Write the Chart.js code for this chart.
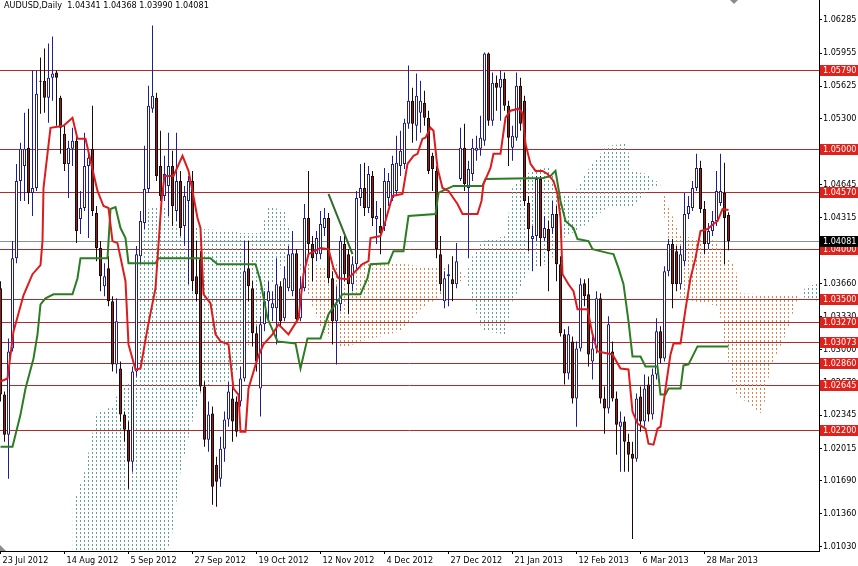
<!DOCTYPE html>
<html>
<head>
<meta charset="utf-8">
<script src="https://cdn.jsdelivr.net/npm/chart.js@4.4.1/dist/chart.umd.min.js"></script>
<style>
  html, body { margin:0; padding:0; background:#fff; }
  #wrap { width:858px; height:566px; }
</style>
</head>
<body>
<div id="wrap"><canvas id="chart" width="858" height="566"></canvas></div>
<script>
// --- Data ---
const title = 'AUDUSD,Daily  1.04341 1.04368 1.03990 1.04081';

const dateLabels = ['23 Jul 2012','14 Aug 2012','5 Sep 2012','27 Sep 2012','19 Oct 2012','12 Nov 2012',
  '4 Dec 2012','27 Dec 2012','21 Jan 2013','12 Feb 2013','6 Mar 2013','28 Mar 2013'];
const dateTicks = [0,16,32,48,64,80,96,112,128,144,160,176];

const priceTicks = [1.0103,1.0136,1.0169,1.02015,1.02345,1.0267,1.03,1.0333,1.0366,1.03985,
  1.04315,1.04645,1.0497,1.053,1.05625,1.05955,1.06285];

const levels = [1.0579,1.05,1.0457,1.04,1.035,1.0327,1.03073,1.0286,1.02645,1.022];
const lastPrice = 1.04081;

// daily candles, bar index 0 = 23 Jul 2012
const opens = [
  1.0361,1.0255,1.0215,1.0301,1.0391,1.0468,1.0483,1.0501,1.0456,1.0461,
  1.0568,1.0568,1.0551,1.0571,1.0576,1.0551,1.0515,1.0485,1.0500,1.0508,
  1.0430,1.0441,1.0483,1.0500,1.0436,1.0401,1.0363,1.0381,1.0348,1.0285,
  1.0281,1.0235,1.0220,1.0188,1.0278,1.0393,1.0426,1.0460,1.0540,1.0551,
  1.0483,1.0453,1.0463,1.0483,1.0438,1.0468,1.0423,1.0448,1.0468,1.0373,
  1.0390,1.0263,1.0210,1.0236,1.0185,1.0171,1.0201,1.0230,1.0251,1.0248,
  1.0248,1.0271,1.0381,1.0361,1.0316,1.0261,1.0325,1.0348,1.0341,1.0341,
  1.0363,1.0331,1.0361,1.0358,1.0396,1.0331,1.0361,1.0431,1.0405,1.0395,
  1.0395,1.0421,1.0431,1.0371,1.0328,1.0345,1.0405,1.0395,1.0365,1.0385,
  1.0451,1.0461,1.0441,1.0473,1.0430,1.0423,1.0423,1.0451,1.0451,1.0458,
  1.0483,1.0485,1.0525,1.0548,1.0523,1.0536,1.0546,1.0531,1.0493,1.0478,
  1.0395,1.0348,1.0373,1.0370,1.0365,1.0470,1.0501,1.0461,1.0475,1.0498,
  1.0500,1.0508,1.0595,1.0528,1.0566,1.0561,1.0570,1.0543,1.0501,1.0511,
  1.0563,1.0548,1.0446,1.0410,1.0413,1.0470,1.0411,1.0420,1.0421,1.0435,
  1.0385,1.0315,1.0276,1.0308,1.0251,1.0301,1.0366,1.0355,1.0288,1.0301,
  1.0351,1.0251,1.0241,1.0298,1.0251,1.0223,1.0228,1.0208,1.0196,1.0191,
  1.0253,1.0228,1.0265,1.0235,1.0275,1.0318,1.0291,1.0378,1.0405,1.0398,
  1.0365,1.0388,1.0435,1.0441,1.0461,1.0481,1.0440,1.0405,1.0418,1.0428,
  1.0446,1.0456,1.04341];
const highs = [
  1.0368,1.0258,1.0311,1.0408,1.0485,1.0506,1.0536,1.0540,1.0578,1.0578,
  1.0591,1.0600,1.0605,1.0612,1.0578,1.0553,1.0523,1.0508,1.0521,1.0513,
  1.0458,1.0516,1.0498,1.0543,1.0443,1.0408,1.0386,1.0393,1.0353,1.0351,
  1.0288,1.0238,1.0228,1.0283,1.0403,1.0438,1.0503,1.0563,1.0623,1.0556,
  1.0518,1.0493,1.0516,1.0498,1.0516,1.0478,1.0463,1.0473,1.0478,1.0408,
  1.0398,1.0268,1.0248,1.0243,1.0193,1.0213,1.0238,1.0268,1.0263,1.0253,
  1.0283,1.0408,1.0408,1.0368,1.0323,1.0333,1.0358,1.0368,1.0358,1.0391,
  1.0368,1.0383,1.0403,1.0418,1.0400,1.0373,1.0445,1.0478,1.0413,1.0418,
  1.0438,1.0441,1.0436,1.0378,1.0363,1.0413,1.0413,1.0400,1.0393,1.0458,
  1.0485,1.0486,1.0483,1.0478,1.0448,1.0441,1.0481,1.0476,1.0493,1.0513,
  1.0518,1.0530,1.0583,1.0561,1.0575,1.0568,1.0558,1.0538,1.0496,1.0483,
  1.0413,1.0378,1.0385,1.0393,1.0406,1.0521,1.0525,1.0488,1.0510,1.0513,
  1.0533,1.0596,1.0596,1.0576,1.0573,1.0578,1.0576,1.0548,1.0523,1.0576,
  1.0571,1.0553,1.0453,1.0423,1.0473,1.0473,1.0433,1.0428,1.0448,1.0443,
  1.0393,1.0320,1.0323,1.0313,1.0308,1.0371,1.0370,1.0371,1.0313,1.0358,
  1.0356,1.0263,1.0333,1.0308,1.0258,1.0238,1.0233,1.0216,1.0208,1.0256,
  1.0263,1.0275,1.0273,1.0281,1.0331,1.0323,1.0383,1.0410,1.0410,1.0403,
  1.0403,1.0456,1.0453,1.0468,1.0495,1.0488,1.0448,1.0426,1.0438,1.0478,
  1.0495,1.0486,1.04368];
const lows = [
  1.0248,1.0208,1.0171,1.0298,1.0386,1.0448,1.0448,1.0445,1.0433,1.0458,
  1.0535,1.0536,1.0526,1.0548,1.0523,1.0495,1.0478,1.0451,1.0483,1.0406,
  1.0415,1.0438,1.0411,1.0433,1.0388,1.0358,1.0353,1.0343,1.0278,1.0276,
  1.0228,1.0208,1.0161,1.0178,1.0273,1.0386,1.0420,1.0456,1.0536,1.0468,
  1.0448,1.0448,1.0433,1.0423,1.0428,1.0413,1.0403,1.0365,1.0358,1.0348,
  1.0258,1.0203,1.0198,1.0145,1.0143,1.0163,1.0188,1.0223,1.0208,1.0213,
  1.0243,1.0268,1.0348,1.0303,1.0278,1.0233,1.0318,1.0328,1.0328,1.0305,
  1.0323,1.0328,1.0358,1.0353,1.0326,1.0328,1.0358,1.0395,1.0368,1.0388,
  1.0390,1.0413,1.0366,1.0305,1.0285,1.0338,1.0368,1.0335,1.0358,1.0380,
  1.0443,1.0433,1.0436,1.0423,1.0405,1.0395,1.0418,1.0443,1.0448,1.0453,
  1.0473,1.0480,1.0520,1.0506,1.0508,1.0516,1.0523,1.0475,1.0458,1.0391,
  1.0358,1.0341,1.0343,1.0348,1.0361,1.0468,1.0458,1.0391,1.0468,1.0488,
  1.0493,1.0503,1.0523,1.0523,1.0538,1.0528,1.0538,1.0483,1.0488,1.0508,
  1.0518,1.0443,1.0398,1.0378,1.0408,1.0383,1.0408,1.0358,1.0415,1.0368,
  1.0313,1.0265,1.0270,1.0246,1.0223,1.0298,1.0343,1.0283,1.0270,1.0296,
  1.0246,1.0216,1.0236,1.0248,1.0195,1.0178,1.0178,1.0178,1.0111,1.0188,
  1.0218,1.0223,1.0228,1.0230,1.0270,1.0286,1.0288,1.0373,1.0341,1.0358,
  1.0360,1.0383,1.0430,1.0438,1.0458,1.0436,1.0395,1.0400,1.0413,1.0423,
  1.0443,1.0385,1.03990];
const closes = [
  1.0255,1.0215,1.0298,1.0391,1.0468,1.0500,1.0500,1.0456,1.0461,1.0555,
  1.0567,1.0551,1.0571,1.0575,1.0571,1.0521,1.0485,1.0501,1.0508,1.0418,
  1.0441,1.0483,1.0491,1.0438,1.0401,1.0373,1.0373,1.0348,1.0285,1.0328,
  1.0235,1.0220,1.0188,1.0278,1.0395,1.0428,1.0460,1.0543,1.0553,1.0473,
  1.0453,1.0475,1.0483,1.0443,1.0468,1.0421,1.0453,1.0468,1.0368,1.0355,
  1.0263,1.0210,1.0235,1.0163,1.0168,1.0201,1.0230,1.0258,1.0228,1.0218,
  1.0271,1.0378,1.0363,1.0316,1.0288,1.0325,1.0348,1.0358,1.0346,1.0365,
  1.0328,1.0371,1.0395,1.0396,1.0330,1.0361,1.0431,1.0405,1.0391,1.0411,
  1.0425,1.0431,1.0371,1.0328,1.0345,1.0408,1.0375,1.0365,1.0385,1.0451,
  1.0461,1.0441,1.0475,1.0431,1.0433,1.0416,1.0468,1.0468,1.0485,1.0486,
  1.0498,1.0526,1.0548,1.0525,1.0553,1.0548,1.0531,1.0478,1.0480,1.0400,
  1.0365,1.0371,1.0375,1.0365,1.0388,1.0501,1.0465,1.0480,1.0501,1.0501,
  1.0511,1.0595,1.0528,1.0566,1.0561,1.0570,1.0543,1.0511,1.0513,1.0563,
  1.0525,1.0448,1.0420,1.0413,1.0470,1.0411,1.0421,1.0398,1.0435,1.0385,
  1.0316,1.0276,1.0315,1.0251,1.0301,1.0365,1.0353,1.0295,1.0301,1.0351,
  1.0251,1.0241,1.0325,1.0251,1.0225,1.0228,1.0208,1.0195,1.0191,1.0251,
  1.0228,1.0261,1.0235,1.0275,1.0318,1.0291,1.0378,1.0405,1.0365,1.0365,
  1.0395,1.0435,1.0443,1.0461,1.0481,1.0440,1.0405,1.0418,1.0428,1.0458,
  1.0458,1.0431,1.04081];

// Tenkan-sen (red), vertices: bar index / price
const tenkanX = [0,1.75,3.25,5.75,8,10,10.5,10.75,12.5,15.75,18,19.25,21.25,24.25,25.75,27,28,29.25,31.25,32,
  33.75,35,36.75,38.75,40.25,41,43.25,45.5,47,48,49.25,50,50.75,52.5,53.75,55,57,58.25,59.5,60,
  61.25,62,64.25,65.75,68,69.5,72,74.5,75.75,77,80,82,83.25,84.5,86.75,88.75,90.5,92,92.5,95,
  96.25,98,100.5,101.75,103.25,104.25,105.5,106.25,107.5,108.25,109.25,110.5,112,114.25,115.5,119.25,120.25,120.75,122.5,123.25,
  125,126.25,127.5,129.5,130.5,131.25,132.5,133.75,135.5,136.75,138.25,139.25,140,140.5,142,143.25,144.25,146.75,148,149.25,
  153,155,157,158,159.25,161.25,162,163.25,164.25,165,166.25,167.5,168.25,170,171.25,172.5,173.75,175,176.75,178.25,
  179.25,180.5,182];
const tenkanY = [1.0268,1.0271,1.0318,1.0354,1.0375,1.0384,1.0408,1.0461,1.0521,1.0523,1.0531,1.0510,1.0510,1.0458,1.0443,1.0441,1.0408,1.0406,1.0368,1.0305,
  1.0280,1.0281,1.0321,1.0361,1.0448,1.0473,1.0473,1.0493,1.0478,1.0458,1.0431,1.0421,1.0355,1.0346,1.0315,1.0308,1.0305,1.0261,1.0255,1.0218,
  1.0218,1.0261,1.0291,1.0305,1.0315,1.0325,1.0315,1.0331,1.0375,1.0395,1.0401,1.0400,1.0381,1.0371,1.0370,1.0378,1.0385,1.0388,1.0411,1.0413,
  1.0428,1.0453,1.0455,1.0485,1.0493,1.0495,1.0510,1.0511,1.0521,1.0518,1.0481,1.0461,1.0458,1.0445,1.0435,1.0435,1.0448,1.0465,1.0481,1.0495,
  1.0495,1.0531,1.0538,1.0540,1.0536,1.0505,1.0485,1.0478,1.0478,1.0475,1.0468,1.0455,1.0431,1.0375,1.0365,1.0358,1.0340,1.0340,1.0315,1.0298,
  1.0295,1.0281,1.0280,1.0238,1.0226,1.0221,1.0206,1.0205,1.0221,1.0223,1.0261,1.0295,1.0306,1.0306,1.0340,1.0371,1.0391,1.0418,1.0420,1.0425,
  1.0428,1.0440,1.0439];

// Kijun-sen (green)
const kijunX = [0,3,5,6.25,8.25,9.25,10,11.25,13.25,18,19.25,20,26.75,27.5,28.75,30,31.25,32,38.75,39.5,
  52.5,54.25,63.75,65,66.75,69.25,73.75,75,76.75,80,82,83,85.5,90,91.75,92.5,97,98.25,100.75,102,
  108.75,109.5,110.5,113.25,120.5,121.25,135.75,137.5,138.75,140,141.25,143.25,144.25,147,148,152,153.25,154.5,155.75,157,
  158,160,161.25,164.25,165,166.25,167,170,170.75,172,174.25,182];
const kijunY = [1.0203,1.0203,1.0235,1.0261,1.0291,1.0315,1.0345,1.0351,1.0355,1.0355,1.0371,1.0391,1.0391,1.0440,1.0442,1.0421,1.0411,1.0386,1.0386,1.0391,
  1.0391,1.0385,1.0385,1.0368,1.0331,1.0308,1.0306,1.0281,1.0311,1.0311,1.0335,1.0341,1.0355,1.0355,1.0371,1.0385,1.0386,1.0398,1.0398,1.0433,
  1.0435,1.0456,1.0458,1.0463,1.0463,1.0470,1.0471,1.0473,1.0478,1.0448,1.0428,1.0421,1.0410,1.0408,1.0400,1.0396,1.0395,1.0381,1.0365,1.0328,
  1.0293,1.0293,1.0283,1.0283,1.0255,1.0255,1.0261,1.0261,1.0284,1.0285,1.0303,1.0303];

// short dark green segment around mid November
const chikouX = [82,88];
const chikouY = [1.0455,1.0395];

// Senkou span A / B (cloud), shifted 26 bars ahead
const cloudX = [18,21,24,28,30,33,34.5,37.5,41,43,45,48,50.5,58,60,65,67,71,74.5,77.5,
  80.5,85.5,90,100,105,110,115,116.25,118,120.5,126.25,128,132.5,137.5,139.5,143,147,151.5,156.5,158,
  161.5,165,166.5,170,179.5,180.5,183.5,185,190.5,192.5,196.5,199,200,201.5,205];
const spanA = [1.0143,1.0178,1.0236,1.0243,1.0263,1.0268,1.0423,1.0443,1.0443,1.0433,1.0423,1.0423,1.0420,1.0418,1.0416,1.0416,1.0443,1.0438,1.0386,1.0348,
  1.0318,1.0301,1.0308,1.0318,1.0340,1.0353,1.0368,1.0373,1.0393,1.0408,1.0413,1.0463,1.0478,1.0482,1.0456,1.0453,1.0480,1.0503,1.0505,1.0478,
  1.0475,1.0465,1.0415,1.0351,1.0343,1.0318,1.0258,1.0252,1.0235,1.0283,1.0316,1.0348,1.0355,1.0363,1.0366];
const spanB = [1.0048,1.0048,1.0048,1.0048,1.0048,1.0048,1.0048,1.0048,1.0088,1.0118,1.0178,1.0228,1.0263,1.0270,1.0288,1.0328,1.0358,1.0388,1.0386,1.0386,
  1.0383,1.0386,1.0386,1.0386,1.0383,1.0382,1.0378,1.0373,1.0348,1.0318,1.0315,1.0348,1.0381,1.0386,1.0408,1.0416,1.0426,1.0441,1.0442,1.0442,
  1.0458,1.0465,1.0448,1.0413,1.0408,1.0393,1.0386,1.0356,1.0355,1.0355,1.0355,1.0355,1.0355,1.0350,1.0348];

// --- Style ---
const FONT = "'DejaVu Sans Condensed', 'Liberation Sans', sans-serif";
const BULL = '#1f1f8f';
const BEAR_FILL = '#8a2222';
const BEAR_LINE = '#1a0a0a';
const LEVEL = '#b32a2a';
const TAG = '#e0221c';

// --- Helpers ---
function pts(xs, ys){ return xs.map((x, k) => ({ x, y: ys[k] })); }
function dots(color){
  // MT4 style dotted histogram: one 1px column every bar (4px), 2px on / 2px off
  const c = document.createElement('canvas'); c.width = 4; c.height = 4;
  const g = c.getContext('2d'); g.fillStyle = color; g.fillRect(0, 0, 1, 2);
  return g.createPattern(c, 'repeat');
}
// keep the plot flush with the canvas edges (no auto padding for labels)
function noPad(s){ s.paddingLeft = 0; s.paddingRight = 0; s.paddingTop = 0; s.paddingBottom = 0; }

const bars = opens.map((o, i) => ({ i, o, h: highs[i], l: lows[i], c: closes[i] }));
const up = bars.filter(b => b.c >= b.o);
const down = bars.filter(b => b.c < b.o);

const lineBase = { type:'line', pointRadius:0, tension:0, fill:false };
const barBase = { type:'bar', grouped:false, inflateAmount:0, borderSkipped:false };

// --- Overlay: horizontal levels, price tags, header ---
const mt4Overlay = {
  id: 'mt4Overlay',
  beforeDatasetsDraw(chart){
    const { ctx, chartArea: a, scales: { y } } = chart;
    ctx.save();
    ctx.lineWidth = 1;
    const hline = (v, col) => {
      const py = Math.round(y.getPixelForValue(v)) + 0.5;
      ctx.strokeStyle = col; ctx.beginPath(); ctx.moveTo(a.left, py); ctx.lineTo(a.right, py); ctx.stroke();
    };
    hline(lastPrice, '#8a929c');
    levels.forEach(v => hline(v, LEVEL));
    ctx.restore();
  },
  afterDraw(chart){
    const { ctx, chartArea: a, scales: { y } } = chart;
    ctx.save();
    ctx.font = '9px ' + FONT;
    ctx.textBaseline = 'middle';
    const tag = (v, bg) => {
      const py = Math.round(y.getPixelForValue(v));
      ctx.fillStyle = bg; ctx.fillRect(a.right + 1, py - 5, chart.width - a.right - 1, 11);
      ctx.fillStyle = '#fff'; ctx.fillText(v.toFixed(5), a.right + 4, py + 0.5);
    };
    levels.forEach(v => tag(v, TAG));
    tag(lastPrice, '#000');

    ctx.fillStyle = '#000';
    ctx.textBaseline = 'top';
    ctx.fillText(title, 4, 1);

    // small chart-shift markers
    ctx.fillStyle = '#8c8c8c';
    ctx.beginPath(); ctx.moveTo(0, a.bottom - 6); ctx.lineTo(0, a.bottom); ctx.lineTo(6, a.bottom); ctx.fill();
    ctx.beginPath(); ctx.moveTo(730, 0); ctx.lineTo(738, 0); ctx.lineTo(734, 4); ctx.fill();
    ctx.restore();
  }
};

// --- Chart ---
new Chart(document.getElementById('chart'), {
  type: 'line',
  data: {
    datasets: [
      { ...lineBase, data: pts(cloudX, spanB), borderWidth:0, borderColor:'rgba(0,0,0,0)', order:6 },
      { ...lineBase, data: pts(cloudX, spanA), borderWidth:0, borderColor:'rgba(0,0,0,0)', order:6,
        fill: { target:'-1', above: dots('#5f9f97'), below: dots('#d4864e') } },
      { ...barBase, data: up.map(b => ({ x:b.i, y:[b.l, b.h] })), backgroundColor:BULL, barThickness:1, order:4 },
      { ...barBase, data: down.map(b => ({ x:b.i, y:[b.l, b.h] })), backgroundColor:BEAR_LINE, barThickness:1, order:4 },
      { ...barBase, data: up.map(b => ({ x:b.i, y:[b.o, b.c] })), backgroundColor:'#fff', borderColor:BULL,
        borderWidth:1, barThickness:3, minBarLength:1, order:3 },
      { ...barBase, data: down.map(b => ({ x:b.i, y:[b.o, b.c] })), backgroundColor:BEAR_FILL, borderColor:BEAR_LINE,
        borderWidth:1, barThickness:3, minBarLength:1, order:3 },
      { ...lineBase, data: pts(kijunX, kijunY), borderColor:'#2a7d22', borderWidth:2, order:2 },
      { ...lineBase, data: pts(chikouX, chikouY), borderColor:'#2f6b2a', borderWidth:2, order:2 },
      { ...lineBase, data: pts(tenkanX, tenkanY), borderColor:'#dc1c1c', borderWidth:2, order:1 }
    ]
  },
  options: {
    responsive:false, animation:false, devicePixelRatio:1,
    layout:{ padding:0 },
    plugins:{ legend:{ display:false }, tooltip:{ enabled:false } },
    scales:{
      x:{
        type:'linear', min:-0.125, max:204.625, offset:false,
        afterBuildTicks: s => { s.ticks = dateTicks.map(v => ({ value:v })); },
        afterFit: s => { s.height = 15; noPad(s); },
        grid:{ offset:false, drawOnChartArea:false, drawTicks:true, tickLength:3, color:'#000', tickColor:'#000' },
        border:{ display:true, color:'#000' },
        ticks:{ autoSkip:false, maxRotation:0, align:'start', labelOffset:2, padding:1, color:'#000',
          font:{ family:FONT, size:9 }, callback: v => dateLabels[dateTicks.indexOf(v)] || '' }
      },
      y:{
        type:'linear', position:'right', min:1.0099, max:1.06484, offset:false, beginAtZero:false,
        afterBuildTicks: s => { s.ticks = priceTicks.map(v => ({ value:v })); },
        afterFit: s => { s.width = 39; noPad(s); },
        grid:{ offset:false, drawOnChartArea:false, drawTicks:true, tickLength:3, color:'#000', tickColor:'#000' },
        border:{ display:true, color:'#000' },
        ticks:{ padding:1, color:'#000', font:{ family:FONT, size:9 }, callback: v => Number(v).toFixed(5) }
      }
    }
  },
  plugins:[mt4Overlay]
});
</script>
</body>
</html>
